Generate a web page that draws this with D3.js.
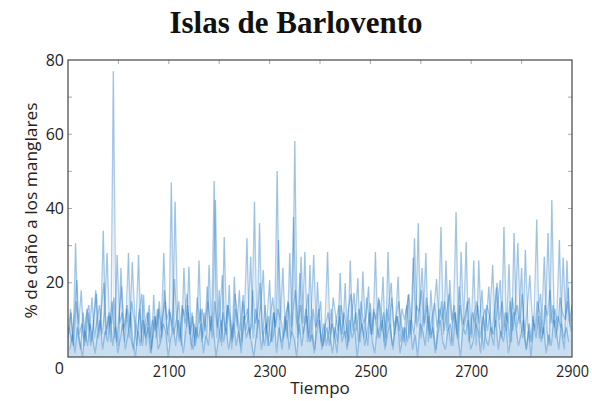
<!DOCTYPE html>
<html><head><meta charset="utf-8">
<script src="https://cdn.jsdelivr.net/npm/d3@7"></script>
<style>
html,body{margin:0;padding:0;background:#fff;}
svg{display:block;}
</style></head>
<body>
<svg id="chart" width="592" height="401"></svg>
<script>
// ---- data ----
const title = "Islas de Barlovento";
const xLabel = "Tiempo";
const yLabel = "% de daño a los manglares";
const xTickValues = [2100, 2300, 2500, 2700, 2900];
const xMinorTicks = [2000, 2100, 2200, 2300, 2400, 2500, 2600, 2700, 2800];
const yTickValues = [0, 20, 40, 60, 80];
const yMinorTicks = [10, 20, 30, 40, 50, 60, 70];
const startYear = 1900, endYear = 2900, stepYears = 5;

// series A (years 1900, 1905, ...)
const seriesA = [5,13,3,30.7,6,2,12,4,12,3,8,18,5,9,34,6,11,4,77,8,3,24,7,10,28,5,2,9,27.5,4,
16.7,3,12,1,16.7,5,13,7,28,9,4,47,6,10,15,3,24,8,24.3,2,9,5,26,4,12,6,24.8,7,47.4,5,
18,3,32.3,6,19.4,2,21.6,8,18,4,11,32,6,9,41.8,5,36,7,3,10,20.7,4,8,50.1,6,2,11,5,28,7,
58.2,5,22.6,9,28.3,4,24.8,6,2,20.2,7,3,9,28.3,5,1,8,4,22.6,6,19.9,3,26,7,10,21.3,4,23,8,3,
14.5,6,28.3,5,9,21.6,3,28.3,7,2,10,21.6,4,8,3,16.7,6,26.7,9,36,5,11,28,4,18,7,2,10,35,6,
26,8,3,12,39,5,28.3,9,31,4,7,26,3,26,8,2,10,19,6,3,18.7,9,5,35,7,25,4,33.4,8,11,
24,6,2,9,4,12,37,5,10,27,7,3,42.3,8,11,31.5,6,2,26,9,14];
// series B (years 1902.5, 1907.5, ...)
const seriesB = [8,4,11,20.7,6,9,3,13,7,16,5,10,14,6,12,28,8,15,5,27.5,9,12,4,14,8,25.6,11,6,13,3,
9,12,5,10,7,13,4,11,15,6,12,8,41.8,10,5,13,9,14,6,11,3,8,13,5,10,15,7,12,42.3,9,
4,12,7,14,10,5,13,8,3,16.7,7,11,27,5,13,9,14,23.4,6,11,4,12,8,31.5,10,5,12,14.5,8,37.7,
11,6,27,9,13,5,11,27.5,8,13,4,9,3,7,13,5,10,14,6,12,8,4,11,17.2,7,13,9,5,16,10,
6,12,8,15.4,11,4,13,9,16,6,11,7,13,10,14,5,12,32,8,13,24,9,14,6,11,14.5,8,13,10,15,
7,20.7,9,12,5,14,8,11,15,6,12,9,14,5,10,13,7,12,24.8,8,14,20.7,6,12,9,15,7,13,30.7,10,
5,28.8,9,4,11,7,13,17,6,12,33.4,9,14,5,11,8,26.7,10,18.7,7];
// series C (years 1901.25, 1906.25, ...)
const seriesC = [6,12,3,15,9,18,5,11,14,4,10,17,7,13,20,6,12,9,16,4,11,19,8,13,5,15,10,3,12,17,
6,9,14,2,11,8,15,5,18,10,13,7,21,9,4,14,11,17,6,12,3,16,9,13,7,19,10,5,15,8,
12,22,6,14,9,4,17,11,7,15,10,13,5,18,9,12,20,6,14,3,11,16,8,13,10,24,7,15,5,12,
18,9,14,6,11,17,4,13,8,10,15,3,9,12,6,16,11,7,14,10,5,13,17,8,12,4,15,9,11,19,
6,13,10,16,7,12,5,14,20,8,11,15,9,4,13,17,10,6,14,12,18,8,16,11,5,13,21,9,15,7,
12,17,10,14,6,19,11,8,13,16,5,12,15,9,18,7,14,11,6,13,20,10,15,8,12,4,16,11,14,9,
17,6,13,22,10,8,15,12,5,14,11,18,9,13,7,16,12,10,15,8];
// series D (years 1903.75, 1908.75, ...)
const seriesD = [2,6,1,8,4,0,7,3,9,5,1,6,10,2,7,4,11,3,8,1,5,9,2,6,12,4,0,7,3,10,
5,8,1,6,11,2,4,9,7,0,5,8,3,10,6,1,7,12,4,2,8,5,9,1,6,3,11,7,0,5,
10,4,8,2,6,9,3,7,1,11,5,8,4,0,6,10,2,7,9,3,5,12,1,8,4,6,10,2,7,5,
0,9,3,8,11,4,6,1,7,10,2,5,8,3,9,6,1,11,4,7,2,10,5,8,0,6,9,3,7,12,
4,1,8,5,10,2,6,9,3,7,11,1,5,8,4,10,2,6,0,9,7,3,11,5,8,1,6,10,4,2,
7,9,3,12,5,0,8,6,10,2,4,9,7,1,11,5,3,8,6,10,2,7,4,9,1,5,12,8,3,6,
10,2,7,0,9,5,11,4,8,1,6,3,10,7,2,9,5,8,4];
const seriesOffsets = [0, 2.5, 1.25, 3.75];

// ---- chart ----
const svg = d3.select("#chart");
const W = 592, H = 401;
const m = {left: 68, right: 20, top: 60, bottom: 44};
const x = d3.scaleLinear().domain([startYear, endYear]).range([m.left, W - m.right]);
const y = d3.scaleLinear().domain([0, 80]).range([H - m.bottom, m.top]);

const fontSans = "'Open Sans', sans-serif";

// title
svg.append("text").attr("x", 296).attr("y", 33).attr("text-anchor", "middle")
  .attr("font-family", "'Liberation Serif', 'DejaVu Serif', serif").attr("font-weight", "bold")
  .attr("font-size", 31).attr("fill", "#111").text(title);

// clip
svg.append("clipPath").attr("id", "clip").append("rect")
  .attr("x", m.left).attr("y", m.top).attr("width", W - m.left - m.right).attr("height", H - m.top - m.bottom);

const allSeries = [seriesA, seriesB, seriesC, seriesD];
const seriesPts = allSeries.map((s, k) =>
  s.map((v, i) => ({t: startYear + seriesOffsets[k] + i * stepYears, v})));
const g = svg.append("g").attr("clip-path", "url(#clip)");
// faint vertical rules from 0 to each value
seriesPts.forEach(pts => {
  g.append("g").selectAll("line").data(pts).join("line")
    .attr("x1", d => x(d.t)).attr("x2", d => x(d.t))
    .attr("y1", y(0)).attr("y2", d => y(d.v))
    .attr("stroke", "#1873bf").attr("stroke-opacity", 0.13).attr("stroke-width", 1.2);
});
// series lines
const line = d3.line().x(d => x(d.t)).y(d => y(d.v));
seriesPts.forEach(pts => {
  g.append("path").datum(pts).attr("d", line)
    .attr("fill", "none").attr("stroke", "#1873bf")
    .attr("stroke-opacity", 0.36).attr("stroke-width", 1.3);
});

// minor ticks (inward)
const tickG = svg.append("g").attr("stroke", "#aaa").attr("stroke-width", 1);
xMinorTicks.forEach(t => {
  tickG.append("line").attr("x1", x(t)).attr("x2", x(t)).attr("y1", m.top).attr("y2", m.top + 4);
});
yMinorTicks.forEach(t => {
  tickG.append("line").attr("x1", m.left).attr("x2", m.left + 4).attr("y1", y(t)).attr("y2", y(t));
  tickG.append("line").attr("x1", W - m.right).attr("x2", W - m.right - 4).attr("y1", y(t)).attr("y2", y(t));
});

// frame
svg.append("rect").attr("x", m.left).attr("y", m.top)
  .attr("width", W - m.left - m.right).attr("height", H - m.top - m.bottom)
  .attr("fill", "none").attr("stroke", "#444").attr("stroke-width", 1.2);

// axes labels via d3 axes
const xAxis = d3.axisBottom(x).tickValues(xTickValues).tickSize(0).tickPadding(9).tickFormat(d3.format("d"));
const xg = svg.append("g").attr("transform", `translate(0,${H - m.bottom})`).call(xAxis);
xg.select(".domain").remove();
xg.selectAll("text").attr("font-family", fontSans).attr("font-size", 16).attr("fill", "#222")
  .attr("textLength", 33).attr("lengthAdjust", "spacingAndGlyphs");

const yAxis = d3.axisLeft(y).tickValues(yTickValues).tickSize(0).tickPadding(4).tickFormat(d3.format("d"));
const yg = svg.append("g").attr("transform", `translate(${m.left},0)`).call(yAxis);
yg.select(".domain").remove();
yg.selectAll("text").attr("font-family", fontSans).attr("font-size", 16).attr("fill", "#222")
  .attr("dy", d => d === 0 ? "1.05em" : "0.32em");

svg.append("text").attr("x", 320).attr("y", 394).attr("text-anchor", "middle")
  .attr("font-family", fontSans).attr("font-size", 17).attr("fill", "#222").text(xLabel);
svg.append("text").attr("transform", `translate(37,${(m.top + H - m.bottom) / 2 + 2}) rotate(-90)`)
  .attr("text-anchor", "middle").attr("font-family", fontSans).attr("font-size", 17)
  .attr("fill", "#222").attr("textLength", 216).attr("lengthAdjust", "spacingAndGlyphs").text(yLabel);
</script>
</body></html>
